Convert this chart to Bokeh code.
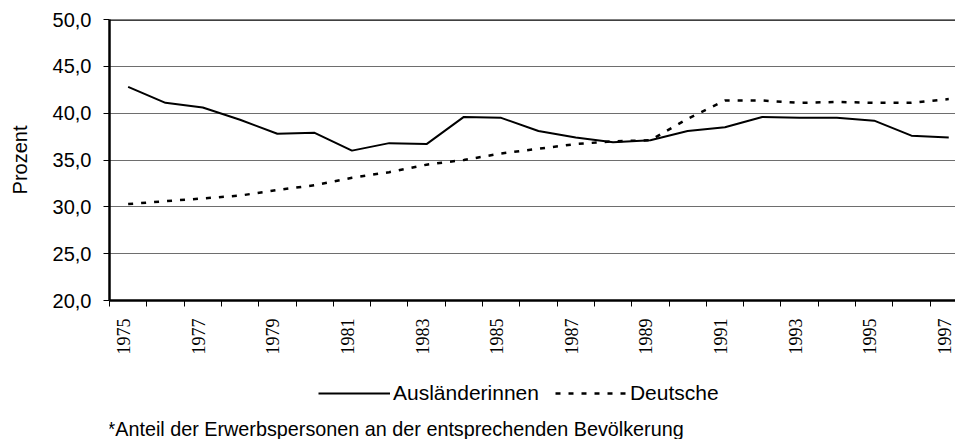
import math
from bokeh.plotting import figure
from bokeh.layouts import column
from bokeh.models import (Range1d, FixedTicker, Span, Legend, LegendItem, Label)
from bokeh.embed import file_html
from bokeh.resources import INLINE

years = list(range(1975, 1998))
auslaenderinnen = [42.8, 41.1, 40.6, 39.3, 37.8, 37.9, 36.0, 36.8, 36.7, 39.6,
                   39.5, 38.1, 37.4, 36.9, 37.1, 38.1, 38.5, 39.6, 39.5, 39.5,
                   39.2, 37.6, 37.4]
deutsche = [30.3, 30.6, 30.9, 31.2, 31.8, 32.3, 33.1, 33.7, 34.5, 35.0,
            35.7, 36.2, 36.7, 37.0, 37.1, 39.4, 41.35, 41.35, 41.1, 41.2,
            41.1, 41.1, 41.5]
y_ticks = [20, 25, 30, 35, 40, 45, 50]
y_tick_labels = ["20,0", "25,0", "30,0", "35,0", "40,0", "45,0", "50,0"]
x_label_years = [1975, 1977, 1979, 1981, 1983, 1985, 1987, 1989, 1991, 1993, 1995, 1997]
series_names = ["Ausländerinnen", "Deutsche"]
y_title = "Prozent"
footnote = "*Anteil der Erwerbspersonen an der entsprechenden Bevölkerung"

FONT = "Liberation Sans"
W = 955
H_MAIN = 360
H_FOOT = 79
LEFT = 109
SOLID = dict(line_color="black", line_width=2)
DOTTED = dict(line_color="black", line_width=2.5, line_dash="5 8")
LABEL_SHIFT = 0.12  # small leftward nudge of the rotated year labels

p = figure(width=W, height=H_MAIN, output_backend="svg", toolbar_location=None,
           x_range=Range1d(1974.5, 1974.5 + (W - LEFT) / 37.3), y_range=Range1d(20, 50),
           min_border_left=LEFT, min_border_right=0, min_border_top=19,
           min_border_bottom=60)
p.outline_line_color = None
p.background_fill_color = "white"
p.border_fill_color = "white"

# grid
p.xgrid.visible = False
p.ygrid.ticker = FixedTicker(ticks=y_ticks[1:-1])
p.ygrid.grid_line_color = "#6e6e6e"
p.ygrid.grid_line_width = 1

# top border
p.add_layout(Span(location=50, dimension="width", line_color="black", line_width=2.5))

# y axis
ya = p.yaxis[0]
ya.ticker = FixedTicker(ticks=y_ticks)
ya.major_label_overrides = {t: l for t, l in zip(y_ticks, y_tick_labels)}
ya.axis_line_width = 2.5
ya.axis_line_color = "black"
ya.major_tick_in = 0
ya.major_tick_out = 6
ya.major_tick_line_color = "black"
ya.minor_tick_line_color = None
ya.major_label_standoff = 12
ya.major_label_text_font = FONT
ya.major_label_text_font_size = "20px"
ya.major_label_text_color = "black"
ya.axis_label = y_title
ya.axis_label_text_font = FONT
ya.axis_label_text_font_size = "20px"
ya.axis_label_text_font_style = "normal"
ya.axis_label_text_color = "black"
ya.axis_label_standoff = 19

# x axis
label_ticks = [y - LABEL_SHIFT for y in x_label_years]
xa = p.xaxis[0]
xa.ticker = FixedTicker(ticks=label_ticks,
                        minor_ticks=[y - 0.5 for y in years])
xa.major_label_overrides = {t: str(y) for t, y in zip(label_ticks, x_label_years)}
xa.axis_line_width = 2.5
xa.axis_line_color = "black"
xa.major_tick_in = 0
xa.major_tick_out = 6
xa.major_tick_line_color = None
xa.minor_tick_in = 0
xa.minor_tick_out = 6
xa.minor_tick_line_color = "black"
xa.minor_tick_line_width = 1
xa.major_label_orientation = math.pi / 2
xa.major_label_standoff = 12
xa.major_label_text_font = "Liberation Sans Narrow"
xa.major_label_text_font_size = "18px"
xa.major_label_text_color = "black"

p.line(years, auslaenderinnen, **SOLID)
p.line(years, deutsche, **DOTTED)

# lower strip: legend and footnote (x in page pixels; frame aligned with the main plot)
q = figure(width=W, height=H_FOOT, output_backend="svg", toolbar_location=None,
           x_range=Range1d(LEFT, W), y_range=Range1d(0, H_FOOT),
           x_axis_location=None, y_axis_location=None,
           min_border_left=LEFT, min_border_right=0, min_border_top=0,
           min_border_bottom=0)
q.outline_line_color = None
q.grid.visible = False
q.background_fill_color = "white"
q.border_fill_color = "white"
# legend-only renderers (their points lie outside the visible range)
lr1 = q.line(x=[-20, -10], y=[-20, -20], **SOLID)
lr2 = q.line(x=[-20, -10], y=[-20, -20], **DOTTED)

legend = Legend(items=[LegendItem(label=series_names[0], renderers=[lr1]),
                       LegendItem(label=series_names[1], renderers=[lr2])],
                orientation="horizontal", location=(318 - LEFT, 34),
                glyph_width=72, glyph_height=20, label_standoff=3, spacing=16,
                padding=0, margin=0, border_line_color=None,
                background_fill_alpha=0,
                label_text_font=FONT, label_text_font_size="21px",
                label_text_color="black")
q.add_layout(legend, "center")

q.add_layout(Label(x=107, y=11, text=footnote, text_font=FONT,
                   text_font_size="19.8px", text_baseline="middle",
                   text_color="black"))

open("out.html", "w").write(file_html(column(p, q, spacing=0), INLINE))
